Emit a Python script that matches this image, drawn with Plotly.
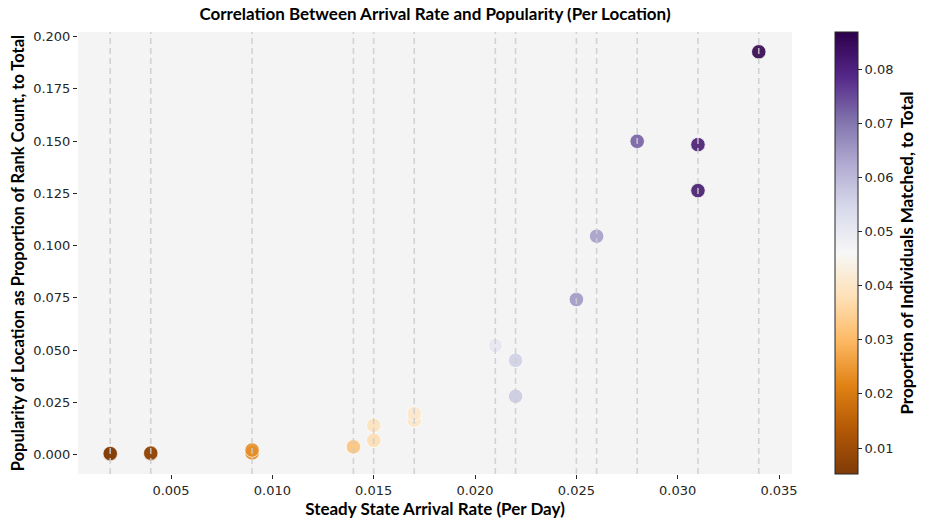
import plotly.graph_objects as go

# steady state arrival rate (per day), one entry per location
arrival_rate = [
    0.002, 0.002, 0.004, 0.004, 0.009, 0.009, 0.014, 0.015, 0.015,
    0.017, 0.017, 0.021, 0.022, 0.022, 0.025, 0.026, 0.028, 0.031,
    0.031, 0.034,
]
# popularity = proportion of rank count, to total
popularity = [
    0.0002, 0.0005, 0.0003, 0.0007, 0.0008, 0.0022, 0.0037, 0.0068, 0.0140,
    0.0164, 0.0196, 0.0522, 0.0451, 0.0279, 0.0742, 0.1045, 0.1499, 0.1483,
    0.1263, 0.1927,
]
# proportion of individuals matched, to total
matched = [
    0.0052, 0.0058, 0.0080, 0.0086, 0.0225, 0.0235, 0.0320, 0.0375, 0.0385,
    0.0400, 0.0405, 0.0505, 0.0560, 0.0570, 0.0655, 0.0645, 0.0730, 0.0820,
    0.0825, 0.0869,
]
cbar_ticks = [0.01, 0.02, 0.03, 0.04, 0.05, 0.06, 0.07, 0.08]

TITLE_FONT = dict(family="Lato", size=17, color="#000000", weight="bold")
YTITLE_FONT = dict(family="Lato", size=16.5, color="#000000", weight="bold")
TICK_FONT = dict(family="DejaVu Sans", size=13, color="#262626")

# the page body adds an 8px offset, so the figure is sized to fit inside it
W, H = 921, 514

fig = go.Figure()

fig.add_trace(
    go.Scatter(
        x=arrival_rate,
        y=popularity,
        mode="markers",
        marker=dict(
            size=14.5,
            color=matched,
            colorscale="PuOr",
            cmin=min(matched),
            cmax=max(matched),
            opacity=0.88,
            line=dict(color="white", width=0.8),
            colorbar=dict(
                title=dict(
                    text="Proportion of Individuals Matched, to Total",
                    side="right",
                    font=TITLE_FONT,
                ),
                tickvals=cbar_ticks,
                tickformat=".2f",
                tickfont=TICK_FONT,
                ticks="outside",
                ticklen=4,
                tickcolor="#262626",
                thickness=23,
                lenmode="fraction",
                len=1,
                x=(835 - 78) / (792 - 78),
                xanchor="left",
                xpad=0,
                y=0,
                yanchor="bottom",
                ypad=0,
                outlinewidth=1,
                outlinecolor="#262626",
            ),
        ),
        hovertemplate="rate %{x}<br>popularity %{y:.3f}<br>matched %{marker.color:.3f}<extra></extra>",
        showlegend=False,
    )
)

# dashed vertical guide at every distinct arrival rate, drawn over the dots
for xv in sorted(set(arrival_rate)):
    fig.add_shape(
        type="line",
        xref="x",
        yref="paper",
        x0=xv,
        x1=xv,
        y0=0,
        y1=1,
        layer="above",
        line=dict(color="rgba(205,205,205,0.85)", width=1.6, dash="6px,4px"),
    )

fig.update_layout(
    width=W,
    height=H,
    margin=dict(l=70, r=137, t=24, b=48, autoexpand=False),
    paper_bgcolor="white",
    plot_bgcolor="#f4f4f4",
    title=dict(
        text="Correlation Between Arrival Rate and Popularity (Per Location)",
        font=TITLE_FONT,
        x=427 / W,
        xanchor="center",
        yref="container",
        y=1,
        yanchor="top",
        pad=dict(t=0),
    ),
    xaxis=dict(
        title=dict(text="Steady State Arrival Rate (Per Day)", font=TITLE_FONT, standoff=4),
        range=[0.00041, 0.03564],
        tickvals=[0.005, 0.010, 0.015, 0.020, 0.025, 0.030, 0.035],
        tickformat=".3f",
        tickfont=TICK_FONT,
        ticks="outside",
        ticklen=4,
        tickcolor="#262626",
        showgrid=False,
        zeroline=False,
        showline=False,
        automargin=False,
    ),
    yaxis=dict(
        title=dict(
            text="Popularity of Location as Proportion of Rank Count, to Total",
            font=YTITLE_FONT,
            standoff=4,
        ),
        range=[-0.0093, 0.2022],
        tickvals=[0.0, 0.025, 0.05, 0.075, 0.1, 0.125, 0.15, 0.175, 0.2],
        tickformat=".3f",
        tickfont=TICK_FONT,
        ticks="outside",
        ticklen=4,
        tickcolor="#262626",
        showgrid=False,
        zeroline=False,
        showline=False,
        automargin=False,
    ),
)

fig.write_html("out.html")
